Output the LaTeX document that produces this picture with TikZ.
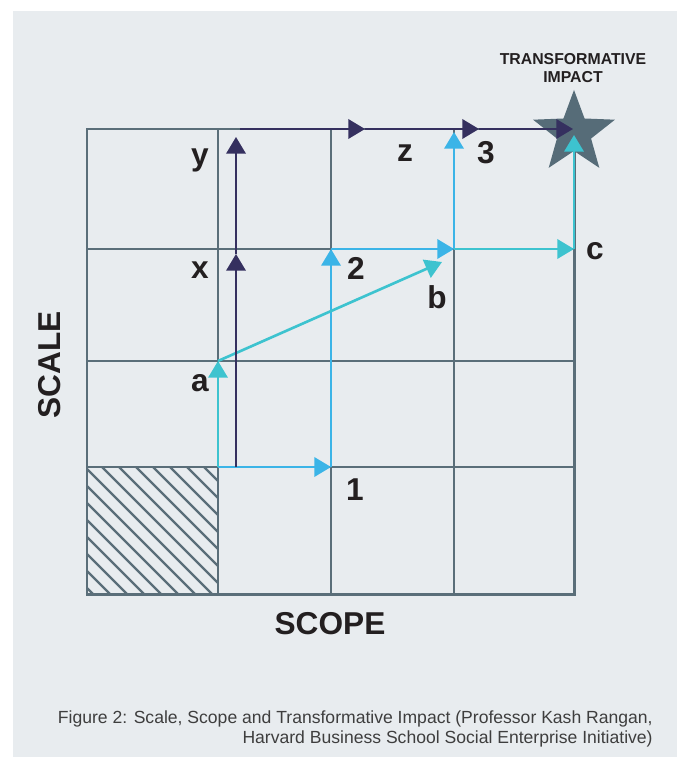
\documentclass[tikz,border=0pt]{standalone}
\usepackage{fontspec}
\setmainfont{Liberation Sans}
\usetikzlibrary{arrows.meta, positioning, shapes.geometric}
\definecolor{panel}{HTML}{E8ECEF}
\definecolor{gridgray}{HTML}{5A6E79}
\definecolor{navy}{HTML}{35305F}
\definecolor{skyblue}{HTML}{3BB4E7}
\definecolor{aquablue}{HTML}{3DC3CF}
\definecolor{starfill}{HTML}{566C78}
\definecolor{inkblack}{HTML}{231F20}
\definecolor{captiongray}{HTML}{3E3E3E}

\begin{document}
\begin{tikzpicture}[
    x=0.02cm, y=-0.02cm,
    every node/.style={font=\bfseries\fontsize{18}{20}\selectfont, text=inkblack, inner sep=0pt},
    gridline/.style={draw=gridgray, line width=1.7pt},
    hatch/.style={draw=gridgray, line width=1.4pt},
    darkarrow/.style={-{Triangle[length=9.5pt, width=11pt]}, draw=navy, line width=1.5pt},
    bluearrow/.style={-{Triangle[length=9.5pt, width=11pt]}, draw=skyblue, line width=1.5pt},
    aquaarrow/.style={-{Triangle[length=9.5pt, width=11pt]}, draw=aquablue, line width=1.5pt},
    goalstar/.style={star, star points=5, star point ratio=2.4, fill=starfill, minimum size=49pt, inner sep=0pt},
    smallhead/.style={font=\bfseries\fontsize{9}{10.5}\selectfont, align=center},
    caption/.style={font=\fontsize{10}{11.3}\selectfont, text=captiongray, align=right}
]

% PANEL
\useasboundingbox (0,0) rectangle (677,757);
\fill[white] (0,0) rectangle (677,757);
\fill[panel] (13,11) rectangle (677,757);

% HATCHED START CELL
\begin{scope}
    \clip (87,467) rectangle (218,594);
    \foreach \k in {-8,...,7}
        \draw[hatch] ({102+17*\k},467) -- ++(140,140);
\end{scope}

% GRID
\draw[gridline] (87,129) rectangle (574,594);
\foreach \gx in {218,331,454}
    \draw[gridline] (\gx,129) -- (\gx,594);
\foreach \gy in {249,361,467}
    \draw[gridline] (87,\gy) -- (574,\gy);

% STAR
\node[goalstar] (impact) at (574,133) {};
\node[smallhead] (impacttext) at (573,68) {TRANSFORMATIVE\\IMPACT};

% POINTS
\coordinate (o) at (218,467);
\coordinate (pa) at (218,361);
\coordinate (p1) at (331,467);
\coordinate (p2) at (331,249);
\coordinate (pb) at (442,262);
\coordinate (pm) at (454,249);
\coordinate (pc) at (574,249);
\coordinate (p3) at (454,132);
\coordinate (pend) at (574,135);
\coordinate (d0) at (236,467);
\coordinate (dx) at (236,254);
\coordinate (dy) at (236,137);
\coordinate (h0) at (240,129);
\coordinate (hz) at (365,129);
\coordinate (h3) at (479,129);
\coordinate (hend) at (573,129);

% BLUE ROUTE
\draw[bluearrow] (o) -- (p1);
\draw[bluearrow] (p1) -- (p2);
\draw[bluearrow] (p2) -- (pm);
\draw[bluearrow] (pm) -- (p3);

% AQUA ROUTE
\draw[aquaarrow] (o) -- (pa);
\draw[aquaarrow] (pa) -- (pb);
\draw[aquaarrow] (pm) -- (pc);
\draw[aquaarrow] (pc) -- (pend);

% DARK ROUTE
\draw[darkarrow] (d0) -- (dx);
\draw[darkarrow] (dx) -- (dy);
\draw[darkarrow] (h0) -- (hz);
\draw[darkarrow] (hz) -- (h3);
\draw[darkarrow] (h3) -- (hend);

% LABELS
\node (ly) at (200,160) {y};
\node (lx) at (200,270) {x};
\node (la) at (200,383) {a};
\node (lz) at (405,153) {z};
\node (l3) at (486,153) {3};
\node (l2) at (356,268) {2};
\node (lb) at (437,297) {b};
\node (lc) at (595,251) {c};
\node (l1) at (355,490) {1};

% AXES
\node[rotate=90] (scale) at (50,365) {SCALE};
\node (scope) at (330,624) {SCOPE};

% CAPTION
\node[caption, anchor=east] (figcap) at (653,729) {Figure 2: Scale, Scope and Transformative Impact (Professor Kash Rangan,\\Harvard Business School Social Enterprise Initiative)};

\end{tikzpicture}
\end{document}
